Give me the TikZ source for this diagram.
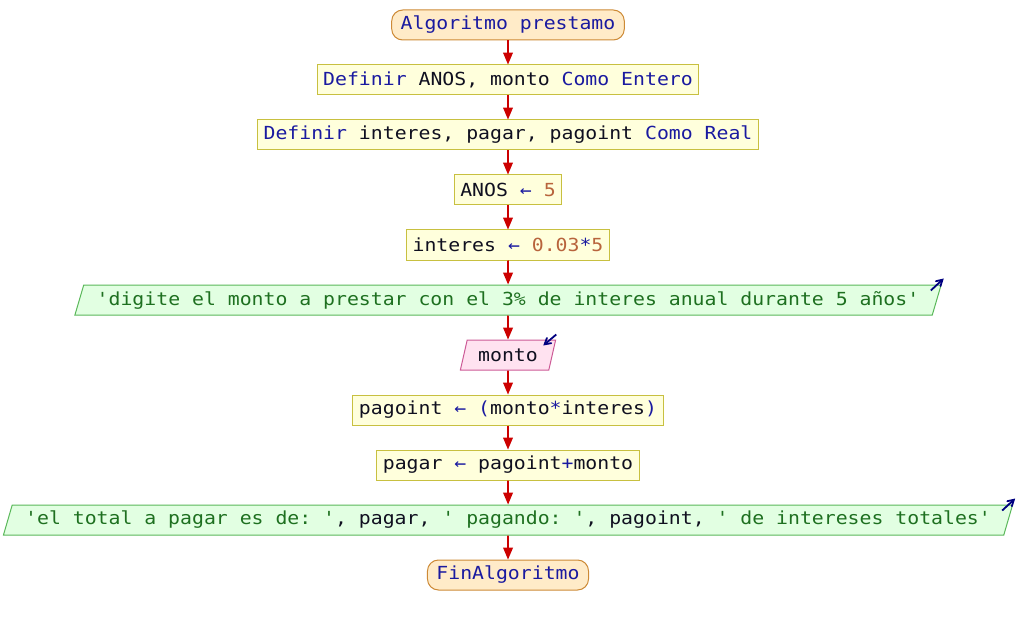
\documentclass[tikz,border=0pt]{standalone}
\usepackage{fontspec}
\setmonofont[FakeStretch=1.1]{DejaVu Sans Mono}
\usepackage{tikz}
\usetikzlibrary{shapes.geometric,arrows}

\definecolor{procfill}{HTML}{FFFFDC}
\definecolor{procline}{HTML}{C8C040}
\definecolor{termfill}{HTML}{FFEBC8}
\definecolor{termline}{HTML}{CD8A36}
\definecolor{outfill}{HTML}{E2FFE2}
\definecolor{outline}{HTML}{5AB85A}
\definecolor{inpfill}{HTML}{FFE2F0}
\definecolor{inpline}{HTML}{CC5A96}
\definecolor{flowred}{HTML}{CC0000}
\definecolor{kwblue}{HTML}{1A1AA0}
\definecolor{numbrown}{HTML}{B8643C}
\definecolor{strgreen}{HTML}{1E7020}
\definecolor{varblack}{HTML}{101020}
\definecolor{ionavy}{HTML}{000080}

\newcommand{\kw}[1]{\textcolor{kwblue}{#1}}
\newcommand{\nm}[1]{\textcolor{numbrown}{#1}}
\newcommand{\st}[1]{\textcolor{strgreen}{#1}}
\newcommand{\op}[1]{\textcolor{kwblue}{#1}}

\tikzset{
  base/.style={draw, line width=1bp, minimum height=30bp, inner xsep=6bp, inner ysep=2bp,
    text=varblack, font=\ttfamily\fontsize{18bp}{22bp}\selectfont},
  proc/.style={base, fill=procfill, draw=procline},
  term/.style={base, fill=termfill, draw=termline, rounded corners=11bp, inner xsep=9bp},
  outp/.style={base, trapezium, trapezium left angle=68, trapezium right angle=112,
    trapezium stretches=true, inner xsep=13bp, fill=outfill, draw=outline},
  inp/.style={outp, inner xsep=11bp, fill=inpfill, draw=inpline},
  flow/.style={-triangle 45, line width=1.8bp, draw=flowred},
  ioarrow/.style={-angle 60, line width=1.8bp, draw=ionavy}
}

\begin{document}
\begin{tikzpicture}[x=1bp,y=-1bp]
    \useasboundingbox (0,0) rectangle (1016,625);
    % nodes
    \node[term] (start) at (508,25) {\kw{Algoritmo prestamo}};
    \node[proc] (defint) at (508,80) {\kw{Definir} ANOS, monto \kw{Como Entero}};
    \node[proc] (defreal) at (508,135) {\kw{Definir} interes, pagar, pagoint \kw{Como Real}};
    \node[proc] (anos) at (508,190) {ANOS \op{←} \nm{5}};
    \node[proc] (interes) at (508,245) {interes \op{←} \nm{0.03}\op{*}\nm{5}};
    \node[outp] (msg) at (508,300) {\st{'digite el monto a prestar con el 3\% de interes anual durante 5 años'}};
    \node[inp] (monto) at (508,355) {monto};
    \node[proc] (pagoint) at (508,410) {pagoint \op{← (}monto\op{*}interes\op{)}};
    \node[proc] (pagar) at (508,465) {pagar \op{←} pagoint\op{+}monto};
    \node[outp] (total) at (508,520) {\st{'el total a pagar es de: '}, pagar, \st{' pagando: '}, pagoint, \st{' de intereses totales'}};
    \node[term] (fin) at (508,575) {\kw{FinAlgoritmo}};
    % flow
    \draw[flow] (start) -- (defint);
    \draw[flow] (defint) -- (defreal);
    \draw[flow] (defreal) -- (anos);
    \draw[flow] (anos) -- (interes);
    \draw[flow] (interes) -- (msg);
    \draw[flow] (msg) -- (monto);
    \draw[flow] (monto) -- (pagoint);
    \draw[flow] (pagoint) -- (pagar);
    \draw[flow] (pagar) -- (total);
    \draw[flow] (total) -- (fin);
    % in/out marks
    \draw[ioarrow] ([shift={(-11,6)}]msg.top right corner) -- ++(13,-12);
    \draw[ioarrow] ([shift={(-11,6)}]total.top right corner) -- ++(13,-12);
    \draw[ioarrow] ([shift={(0,-5)}]monto.top right corner) -- ++(-13,11);
\end{tikzpicture}
\end{document}
